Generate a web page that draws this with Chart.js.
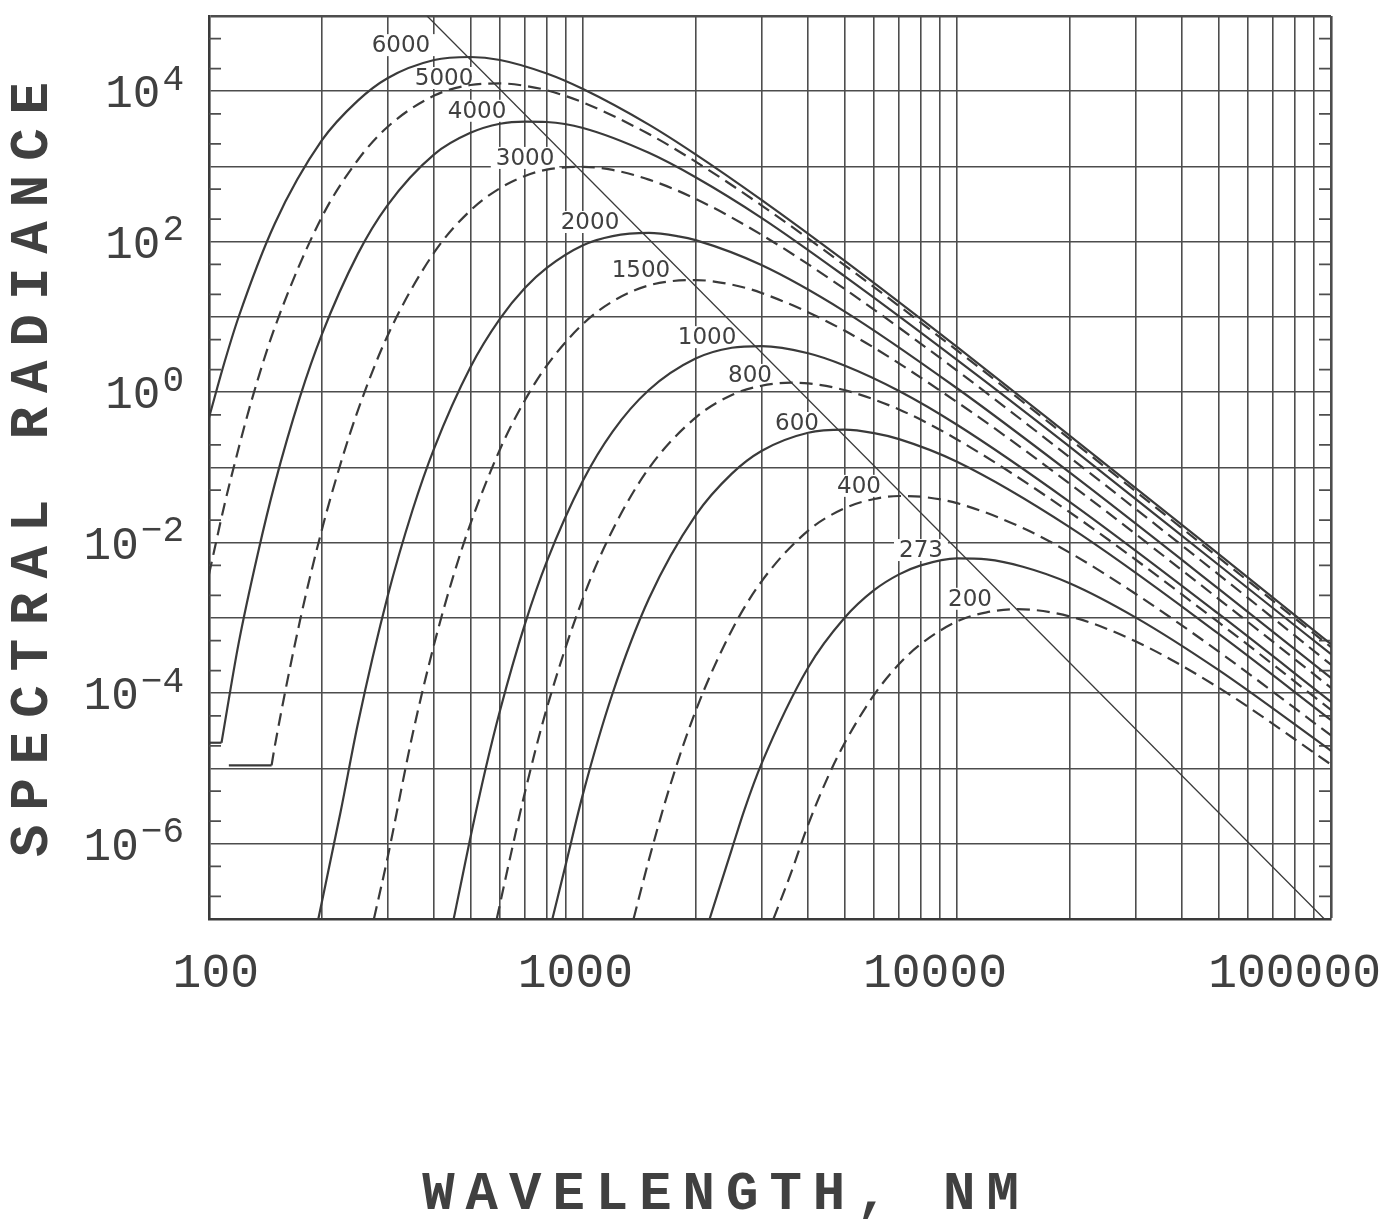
<!DOCTYPE html>
<html>
<head>
<meta charset="utf-8">
<title>Spectral radiance</title>
<script src="https://cdn.jsdelivr.net/npm/chart.js@4.4.1/dist/chart.umd.min.js"></script>
<style>
  html, body { margin: 0; padding: 0; background: #fff; }
</style>
</head>
<body>
<canvas id="radianceChart" width="1391" height="1229"></canvas>
<script>
//------------------------------------------------------------------------------
// 黑體輻射曲線：波長 (nm) 與光譜輻射亮度

// 溫度 (K)
const temperatures = [6000, 5000, 4000, 3000, 2000, 1500, 1000, 800, 600, 400, 273, 200];

const wl6000 = [100, 110, 120, 150, 200, 250, 300, 400, 500, 600, 800, 1000, 1500, 2000, 3000, 5000, 10000, 20000, 50000, 100000];
const rad6000 = [0.46, 2.5, 10, 175, 2200, 7500, 14900, 26000, 28500, 26000, 17200, 10700, 3600, 1450, 360, 56, 4.0, 0.265, 0.0071, 0.00045];

const wl5000 = [100, 110, 120, 130, 150, 200, 250, 300, 400, 500, 600, 700, 800, 1000, 1500, 2000, 3000, 5000, 10000, 20000, 50000, 100000];
const rad5000 = [0.0038, 0.032, 0.18, 0.78, 7.3, 210, 1220, 3350, 8750, 12100, 12700, 11800, 10300, 7100, 2700, 1160, 305, 49, 3.6, 0.24, 0.0064, 0.00041];

const wl4000 = [108, 120, 135, 150, 175, 200, 250, 300, 400, 500, 600, 700, 800, 1000, 1500, 2000, 3000, 5000, 10000, 20000, 50000, 100000];
const rad4000 = [2.2e-5, 4.6e-4, 7.1e-3, 0.061, 0.86, 5.75, 69, 305, 1450, 2800, 3700, 3950, 3900, 3250, 1520, 720, 208, 35, 2.7, 0.19, 0.0051, 0.00033];

const wl3000 = [147, 150, 175, 200, 225, 250, 300, 400, 500, 600, 700, 800, 1000, 1200, 1500, 2000, 3000, 5000, 10000, 20000, 50000, 100000];
const rad3000 = [1.1e-5, 2.0e-5, 9.1e-4, 0.0144, 0.114, 0.57, 5.6, 72, 260, 516, 750, 910, 990, 900, 670, 372, 124, 23.7, 1.94, 0.137, 0.0038, 0.00024];

const wl2000 = [196, 225, 250, 300, 350, 400, 500, 600, 700, 800, 1000, 1200, 1500, 1800, 2000, 3000, 5000, 10000, 20000, 50000, 100000];
const rad2000 = [1.0e-7, 2.7e-6, 3.9e-5, 1.9e-3, 0.027, 0.18, 2.15, 9.5, 24.4, 45, 90, 119, 131, 118, 105, 49, 11.9, 1.13, 0.086, 0.00246, 1.6e-4];

const wl1500 = [276, 300, 350, 400, 450, 500, 600, 700, 800, 1000, 1200, 1500, 2000, 2500, 3000, 5000, 10000, 20000, 50000, 100000];
const rad1500 = [1.0e-7, 6.4e-7, 2.8e-5, 4.5e-4, 3.6e-3, 0.0178, 0.175, 0.79, 2.26, 8.1, 16.1, 26.3, 31, 26.9, 20.9, 6.6, 0.74, 0.061, 0.0018, 1.18e-4];

const wl1000 = [451, 475, 500, 550, 600, 700, 800, 1000, 1200, 1500, 2000, 2500, 3000, 4000, 5000, 7000, 10000, 20000, 50000, 100000];
const rad1000 = [1.0e-7, 3.5e-7, 1.21e-6, 1.03e-5, 5.9e-5, 8.4e-4, 5.6e-3, 0.067, 0.30, 1.07, 2.8, 3.9, 4.1, 3.3, 2.27, 1.04, 0.37, 0.035, 1.14e-3, 7.7e-5];

const wl800 = [588, 640, 700, 800, 1000, 1200, 1500, 2000, 2500, 3000, 3600, 4000, 5000, 7000, 10000, 20000, 50000, 100000];
const rad800 = [1.0e-7, 6.9e-7, 4.9e-6, 6.3e-5, 1.84e-3, 0.0148, 0.0975, 0.46, 0.92, 1.22, 1.34, 1.31, 1.07, 0.59, 0.236, 0.0255, 8.8e-4, 6.0e-5];

const wl600 = [828, 900, 1000, 1200, 1500, 2000, 2500, 3000, 4000, 5000, 6000, 7000, 10000, 20000, 50000, 100000];
const rad600 = [1.0e-7, 5.4e-7, 4.6e-6, 1.0e-4, 1.8e-3, 0.0231, 0.083, 0.166, 0.29, 0.318, 0.286, 0.238, 0.119, 0.0161, 6.2e-4, 4.4e-5];

const wl400 = [1365, 1500, 1700, 2000, 2500, 3000, 4000, 5000, 6000, 7000, 8000, 10000, 15000, 20000, 30000, 50000, 100000];
const rad400 = [1.0e-7, 6.1e-7, 5.4e-6, 5.8e-5, 6.9e-4, 3.05e-3, 0.0145, 0.0286, 0.0382, 0.0418, 0.0409, 0.0336, 0.0157, 7.4e-3, 2.1e-3, 3.6e-4, 2.75e-5];

const wl273 = [2180, 2500, 2700, 3000, 4000, 5000, 6000, 7000, 8000, 10000, 12000, 15000, 20000, 30000, 50000, 100000];
const rad273 = [1.0e-7, 8.5e-7, 2.8e-6, 1.15e-5, 2.2e-4, 1.0e-3, 2.34e-3, 3.8e-3, 5.0e-3, 6.2e-3, 6.0e-3, 4.8e-3, 2.9e-3, 1.02e-3, 2.04e-4, 1.72e-5];

const wl200 = [3230, 3600, 4000, 4500, 5000, 6000, 7000, 8000, 10000, 12000, 14500, 20000, 30000, 50000, 100000];
const rad200 = [1.0e-7, 4.1e-7, 1.8e-6, 7.4e-6, 2.15e-5, 9.5e-5, 2.44e-4, 4.5e-4, 9.0e-4, 1.19e-3, 1.31e-3, 1.05e-3, 4.9e-4, 1.19e-4, 1.13e-5];

// 4000 與 3000 曲線起點的水平短線
const stub4000Wl = [100, 108];
const stub4000Rad = [2.2e-5, 2.2e-5];
const stub3000Wl = [113, 147];
const stub3000Rad = [1.1e-5, 1.1e-5];

// 峰值連線 (λ^-5)
const wienWl = [383, 96000];
const wienRad = [1e5, 1e-7];

// 曲線溫度標籤的位置 (波長, 輻射亮度)
const labelWl = [326, 425, 521, 700, 1044, 1429, 2146, 2796, 3735, 5470, 8010, 10830];
const labelRad = [41000, 15000, 5500, 1300, 183, 42, 5.4, 1.7, 0.39, 0.057, 0.008, 0.0018];

// 座標軸格線與刻度
const xGridValues = [];
[100, 1000, 10000].forEach(function(d) {
  for (let k = 1; k < 10; k++) xGridValues.push(k * d);
});
xGridValues.push(100000);
const xLabelValues = [100, 1000, 10000, 100000];

const yGridValues = [];
for (let e = -7; e <= 5; e++) yGridValues.push(Math.pow(10, e));
const yMinorValues = [];
for (let e = -7; e < 5; e++) {
  yMinorValues.push(2 * Math.pow(10, e));
  yMinorValues.push(5 * Math.pow(10, e));
}
const yLabelExps = [4, 2, 0, -2, -4, -6];

const xTitle = 'WAVELENGTH, NM';
const yTitle = 'SPECTRAL RADIANCE';

//------------------------------------------------------------------------------
const curveWl = [wl6000, wl5000, wl4000, wl3000, wl2000, wl1500, wl1000, wl800, wl600, wl400, wl273, wl200];
const curveRad = [rad6000, rad5000, rad4000, rad3000, rad2000, rad1500, rad1000, rad800, rad600, rad400, rad273, rad200];

const inkColor = '#3a3a3a';
const gridColor = '#4d4d4d';
const textColor = '#404040';

function toPoints(wl, rad) {
  return wl.map((w, k) => ({ x: w, y: rad[k] }));
}

// 每條溫度曲線：實線、虛線交替
const datasets = temperatures.map(function(t, i) {
  return {
    label: String(t),
    data: toPoints(curveWl[i], curveRad[i]),
    borderColor: inkColor,
    borderWidth: 2.2,
    borderDash: i % 2 === 1 ? [13, 7] : [],
    pointRadius: 0,
    cubicInterpolationMode: 'monotone',
    fill: false
  };
});

datasets.push({
  label: 'stub4000',
  data: toPoints(stub4000Wl, stub4000Rad),
  borderColor: inkColor, borderWidth: 2.2, pointRadius: 0, fill: false
});
datasets.push({
  label: 'stub3000',
  data: toPoints(stub3000Wl, stub3000Rad),
  borderColor: inkColor, borderWidth: 2.2, pointRadius: 0, fill: false
});
datasets.push({
  label: 'peak',
  data: toPoints(wienWl, wienRad),
  borderColor: inkColor, borderWidth: 1.3, pointRadius: 0, fill: false
});

// 標籤、短刻度、y 軸 10 的次方、軸標題
const decorPlugin = {
  id: 'decor',
  beforeDatasetsDraw(chart) {
    const ctx = chart.ctx;
    const xs = chart.scales.x, ys = chart.scales.y;
    const area = chart.chartArea;
    ctx.save();
    ctx.strokeStyle = gridColor;
    ctx.lineWidth = 1.6;
    yMinorValues.forEach(function(v) {
      const py = ys.getPixelForValue(v);
      ctx.beginPath();
      ctx.moveTo(area.left, py); ctx.lineTo(area.left + 12, py);
      ctx.moveTo(area.right - 12, py); ctx.lineTo(area.right, py);
      ctx.stroke();
    });
    ctx.font = '23px "DejaVu Sans"';
    ctx.textAlign = 'center';
    ctx.textBaseline = 'middle';
    temperatures.forEach(function(t, i) {
      const px = xs.getPixelForValue(labelWl[i]);
      const py = ys.getPixelForValue(labelRad[i]);
      const text = String(t);
      const w = ctx.measureText(text).width;
      ctx.fillStyle = '#fff';
      ctx.fillRect(px - w / 2 - 5, py - 11, w + 10, 22);
      ctx.fillStyle = textColor;
      ctx.fillText(text, px, py + 1);
    });
    ctx.restore();
  },
  afterDraw(chart) {
    const ctx = chart.ctx;
    const ys = chart.scales.y;
    const area = chart.chartArea;
    ctx.save();
    ctx.fillStyle = textColor;
    ctx.textBaseline = 'middle';
    ctx.textAlign = 'right';
    yLabelExps.forEach(function(e) {
      const py = ys.getPixelForValue(Math.pow(10, e)) + 4;
      const exp = e < 0 ? '\u2212' + Math.abs(e) : String(e);
      ctx.font = '36px "Liberation Mono"';
      const ew = ctx.measureText(exp).width;
      ctx.fillText(exp, 184, py - 15);
      ctx.font = '46px "Liberation Mono"';
      ctx.fillText('10', 184 - ew - 2, py);
    });

    ctx.font = 'bold 54px "Liberation Mono"';
    ctx.textAlign = 'center';
    ctx.letterSpacing = '14px';
    ctx.save();
    ctx.translate(33, (area.top + area.bottom) / 2 + 2);
    ctx.rotate(-Math.PI / 2);
    ctx.fillText(yTitle, 7, 0);
    ctx.restore();
    ctx.letterSpacing = '11px';
    ctx.fillText(xTitle, 721 + 5, 1195);
    ctx.restore();
  }
};

const ctxRadiance = document.getElementById('radianceChart').getContext('2d');
const configRadiance = {
  type: 'line',
  data: { datasets: datasets },
  options: {
    responsive: false,
    animation: false,
    events: [],
    layout: { padding: { top: 16, right: 60, left: 0, bottom: 0 } },
    plugins: {
      legend: { display: false },
      tooltip: { enabled: false }
    },
    scales: {
      x: {
        type: 'logarithmic',
        min: 100,
        max: 100000,
        afterBuildTicks: function(scale) { scale.ticks = xGridValues.map(v => ({ value: v })); },
        afterFit: function(scale) {
          scale.height = 310;
          // 不讓最後一個刻度文字把繪圖區往內推
          scale.paddingLeft = 0;
          scale.paddingRight = 0;
        },
        ticks: {
          autoSkip: false,
          maxRotation: 0,
          padding: 26,
          align: 'end',
          labelOffset: 50,
          color: textColor,
          font: { family: 'Liberation Mono', size: 48 },
          callback: function(v) { return xLabelValues.indexOf(v) >= 0 ? String(v) : ''; }
        },
        grid: {
          color: gridColor,
          lineWidth: ctx => ctx.tick && ctx.tick.value === 100000 ? 2.6 : 1.6,
          drawTicks: false
        },
        border: { display: true, color: inkColor, width: 2.6 }
      },
      y: {
        type: 'logarithmic',
        min: 1e-7,
        max: 1e5,
        afterBuildTicks: function(scale) { scale.ticks = yGridValues.map(v => ({ value: v })); },
        afterFit: function(scale) {
          scale.width = 209;
          scale.paddingTop = 0;
          scale.paddingBottom = 0;
        },
        ticks: { display: false },
        grid: {
          color: gridColor,
          lineWidth: ctx => ctx.tick && ctx.tick.value === 1e5 ? 2.6 : 1.6,
          drawTicks: false
        },
        border: { display: true, color: inkColor, width: 2.6 }
      }
    }
  },
  plugins: [decorPlugin]
};
const radianceChart = new Chart(ctxRadiance, configRadiance);
</script>
</body>
</html>
